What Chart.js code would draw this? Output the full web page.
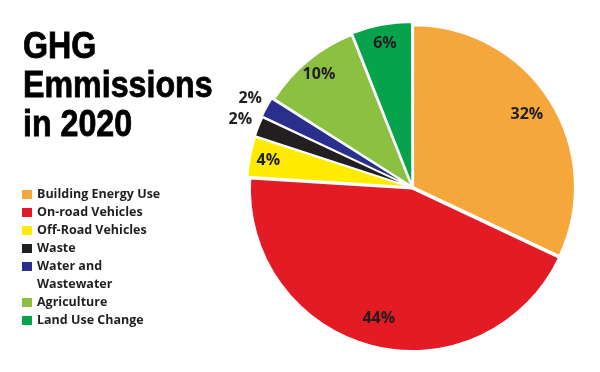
<!DOCTYPE html>
<html>
<head>
<meta charset="utf-8">
<script src="https://cdn.jsdelivr.net/npm/chart.js@4"></script>
<style>
  body { margin: 0; background: #ffffff; }
  #lienzo { position: relative; width: 600px; height: 372px; }
  #titulo {
    position: absolute; left: 23px; top: 26px;
    font-family: "Liberation Sans", Arial, sans-serif;
    font-weight: bold; font-size: 37px; line-height: 39px; color: #000;
    -webkit-text-stroke: 0.8px #000;
    transform: scaleX(0.87); transform-origin: left top;
    white-space: nowrap;
  }
  #leyenda {
    position: absolute; left: 22px; top: 185px;
    font-family: "Open Sans", "Noto Sans", sans-serif;
    font-weight: 700; font-size: 12.5px; line-height: 18px; color: #231f20;
    white-space: nowrap;
  }
  #leyenda div { position: relative; padding-left: 15px; }
  #leyenda span { position: absolute; left: 0; top: 5px; width: 10px; height: 9px; }
</style>
</head>
<body>
<div id="lienzo">
  <canvas id="graficoTorta" width="600" height="372"></canvas>
  <div id="titulo">GHG<br>Emmissions<br>in 2020</div>
  <div id="leyenda"></div>
</div>
<script>
const categorias = ['Building Energy Use', 'On-road Vehicles', 'Off-Road Vehicles', 'Waste', 'Water and Wastewater', 'Agriculture', 'Land Use Change'];
const valores = [32, 44, 4, 2, 2, 10, 6];
const colores = ['#F6A73B', '#E31B24', '#FFEB00', '#231F20', '#2A2F8E', '#8BC040', '#06A24C'];

// Leyenda en HTML para poder partir "Water and Wastewater" en dos líneas
const leyenda = document.getElementById('leyenda');
categorias.forEach(function (nombre, i) {
    let item = document.createElement('div');
    let cuadro = document.createElement('span');
    cuadro.style.background = colores[i];
    item.appendChild(cuadro);
    let partes = nombre.split(' and ');
    if (partes.length > 1) {
        item.appendChild(document.createTextNode(partes[0] + ' and'));
        item.appendChild(document.createElement('br'));
        item.appendChild(document.createTextNode(partes[1]));
    } else {
        item.appendChild(document.createTextNode(nombre));
    }
    leyenda.appendChild(item);
});

// Plugin simple para escribir los porcentajes sobre cada porción
const etiquetasPlugin = {
    id: 'etiquetas',
    afterDatasetsDraw(chart) {
        const ctx = chart.ctx;
        const meta = chart.getDatasetMeta(0);
        ctx.save();
        ctx.font = 'bold 16px "Open Sans", "Noto Sans", sans-serif';
        ctx.fillStyle = '#231f20';
        ctx.textAlign = 'center';
        ctx.textBaseline = 'middle';
        meta.data.forEach(function (arco, i) {
            const p = arco.getProps(['x', 'y', 'startAngle', 'endAngle', 'outerRadius'], true);
            const medio = (p.startAngle + p.endAngle) / 2;
            let r;
            if (valores[i] < 3) r = p.outerRadius + 24; // las chiquitas van afuera
            else if (valores[i] < 20) r = p.outerRadius * 0.91;
            else r = p.outerRadius * 0.84;
            ctx.fillText(valores[i] + '%', p.x + Math.cos(medio) * r, p.y + Math.sin(medio) * r);
        });
        ctx.restore();
    }
};

let ctxTorta = document.getElementById('graficoTorta');
let graficoTorta = new Chart(ctxTorta, {
    type: 'pie',
    data: {
        labels: categorias,
        datasets: [{
            data: valores,
            backgroundColor: colores,
            borderColor: '#ffffff',
            borderWidth: 1.5,
            offset: [4, 5, 9, 9, 11, 8, 10], // porciones separadas
        }],
    },
    options: {
        responsive: false,
        animation: false,
        devicePixelRatio: 1,
        layout: {
            padding: { left: 245, right: 20, top: 20, bottom: 17 }
        },
        plugins: {
            legend: { display: false },
            tooltip: { enabled: false }
        }
    },
    plugins: [etiquetasPlugin]
});
</script>
</body>
</html>
